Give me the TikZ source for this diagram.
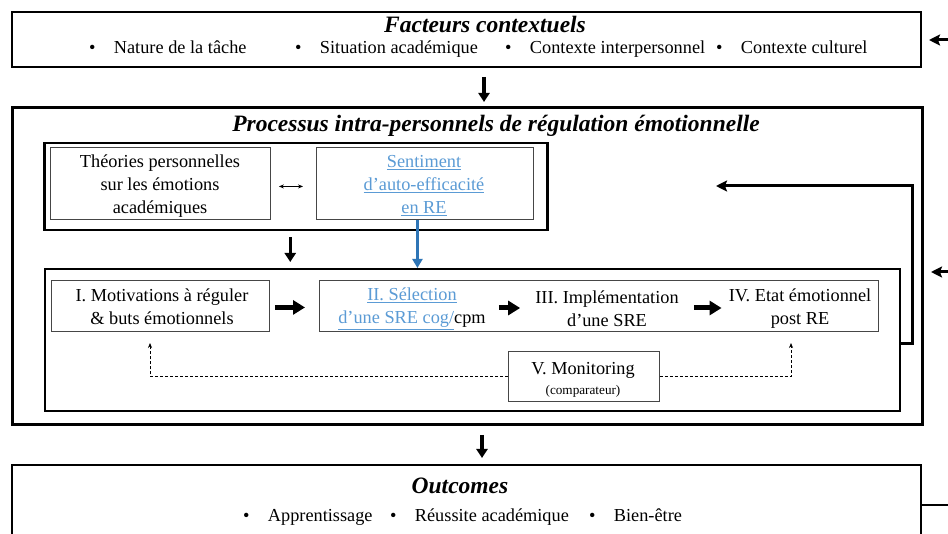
\documentclass[tikz,border=0pt]{standalone}
\usepackage{fontspec}
\setmainfont{Liberation Serif}
\usetikzlibrary{arrows.meta,calc}
\definecolor{linkblue}{RGB}{91,155,213}
\definecolor{arrowblue}{RGB}{46,117,182}
\definecolor{thinframe}{RGB}{70,70,70}
\newcommand{\bodyfont}{\fontsize{18.3}{23}\selectfont}
\newcommand{\titlefont}{\fontsize{23.5}{27}\selectfont\bfseries\itshape}
\newcommand{\smallfont}{\fontsize{13.2}{15}\selectfont}
\newcommand{\lnk}[1]{{\color{linkblue}\underline{#1}}}
\begin{document}
\begin{tikzpicture}[x=1pt,y=-1pt,
  frame/.style={draw, inner sep=0pt, anchor=north west},
  subbox/.style={frame, draw=thinframe, line width=0.9pt, align=center, font=\bodyfont},
  label/.style={font=\bodyfont, align=center, inner sep=0pt},
  item/.style={anchor=base west, inner sep=0pt, font=\bodyfont},
  heading/.style={font=\titlefont, inner sep=0pt},
  downarrow/.style={-{Triangle[length=9pt,width=11pt]}, line width=3.5pt},
  bigarrow/.style={-{Triangle[length=12pt,width=14pt]}, line width=5pt},
  dasharrow/.style={dash pattern=on 3pt off 2pt, line width=0.7pt, -{Stealth[length=5pt,width=4pt]}},
  loopline/.style={-{Stealth[length=11pt,width=11pt,inset=2pt]}, line width=3pt}]
\useasboundingbox (0,0) rectangle (948,534);
\clip (0,0) rectangle (948,534);
\fill[white] (0,0) rectangle (948,534);

% Contextual factors
\node[frame, line width=2pt, minimum width=909pt, minimum height=55pt] (ctx) at (11,11) {};
\node[heading] (ctxtitle) at (485,24) {Facteurs contextuels};
\node[item] (c1) at (89,54) {•\hspace{1em}Nature de la tâche};
\node[item] (c2) at (295,54) {•\hspace{1em}Situation académique};
\node[item] (c3) at (505,54) {•\hspace{1em}Contexte interpersonnel};
\node[item] (c4) at (716,54) {•\hspace{1em}Contexte culturel};

% Intra-personal processes
\node[frame, line width=3pt, minimum width=910pt, minimum height=317pt] (proc) at (11,106) {};
\node[heading] (proctitle) at (496,126) {Processus intra-personnels de régulation émotionnelle};

\node[frame, line width=2.5pt, minimum width=503pt, minimum height=87pt] (beliefs) at (43,142) {};
\node[frame, draw=thinframe, line width=0.9pt, minimum width=220pt, minimum height=72pt] (theo) at (50,147) {};
\node[label] (theotext) at (160,186) {Théories personnelles\\sur les émotions\\académiques};
\node[frame, draw=thinframe, line width=0.9pt, minimum width=217pt, minimum height=72pt] (sae) at (316,147) {};
\node[label] (saetext) at (424,186) {\lnk{Sentiment}\\\lnk{d’auto-efficacité}\\\lnk{en RE}};
\draw[{Stealth[length=5pt,width=4pt]}-{Stealth[length=5pt,width=4pt]}, line width=0.8pt, shorten <=8pt, shorten >=13pt]
  ([yshift=-3pt]theo.east) -- ([yshift=-3pt]sae.west);

\node[frame, line width=2pt, minimum width=855pt, minimum height=142pt] (cycle) at (44,268) {};
\node[frame, draw=thinframe, line width=0.9pt, minimum width=218pt, minimum height=51pt] (mot) at (51,280) {};
\node[label] (mottext) at (162,307) {I. Motivations à réguler\\\& buts émotionnels};
\node[frame, draw=thinframe, line width=0.9pt, minimum width=559pt, minimum height=51pt] (chain) at (319,280) {};
\node[label] (sel) at (412,309) {\lnk{II. Sélection}\\\lnk{d’une SRE cog/}cpm};
\node[label] (impl) at (607,309) {III. Implémentation\\d’une SRE};
\node[label] (post) at (800,309) {IV. Etat émotionnel\\post RE};
\node[frame, draw=thinframe, line width=0.9pt, minimum width=151pt, minimum height=50pt] (mon) at (508,351) {};
\node[label] (montext) at (583,380) {V. Monitoring\\[-3pt]{\smallfont(comparateur)}};

\draw[bigarrow, shorten <=5pt, shorten >=14pt] ([yshift=-1.5pt]mot.east) -- ([yshift=-1.5pt]mot.east -| chain.west);
\draw[bigarrow, shorten <=13pt, shorten >=15pt] ([yshift=1pt]sel.east) -- ([yshift=1pt]sel.east -| impl.west);
\draw[bigarrow, shorten <=15pt, shorten >=7pt] ([yshift=1pt]impl.east) -- ([yshift=1pt]impl.east -| post.west);

\coordinate (dl) at (150,343);
\coordinate (dr) at (791,343);
\draw[dasharrow] (mon.west) -| (dl);
\draw[dasharrow] (mon.east) -| (dr);

\draw[downarrow, shorten <=6pt, shorten >=6pt] ([xshift=-5.5pt]beliefs.south) -- ([xshift=-5.5pt]beliefs.south |- cycle.north);
\draw[-{Triangle[length=9pt,width=10pt]}, arrowblue, line width=3pt] ([xshift=-7.5pt]sae.south) -- ([xshift=-7.5pt]sae.south |- cycle.north);

\coordinate (fbend) at (716,186);
\draw[loopline] ([yshift=-4pt]cycle.east) -- ++(11,0) |- (fbend);

% Outcomes
\node[frame, line width=2pt, minimum width=909pt, minimum height=90pt] (out) at (11,464) {};
\node[heading] (outtitle) at (460,486) {Outcomes};
\node[item] (o1) at (243,521) {•\hspace{1em}Apprentissage};
\node[item] (o2) at (390,521) {•\hspace{1em}Réussite académique};
\node[item] (o3) at (589,521) {•\hspace{1em}Bien-être};

% Links between the three levels
\draw[downarrow, shorten <=9pt, shorten >=4pt] ([xshift=17.5pt]ctx.south) -- ([xshift=17.5pt]ctx.south |- proc.north);
\draw[downarrow, shorten <=9pt, shorten >=6pt] ([xshift=14.5pt]proc.south) -- ([xshift=14.5pt]proc.south |- out.north);

% Feedback entering from the right
\coordinate (edgeA) at (948,40);
\coordinate (edgeB) at (948,272);
\coordinate (edgeC) at (948,505);
\draw[loopline, shorten >=7pt] (edgeA) -- (edgeA -| ctx.east);
\draw[loopline, shorten >=7pt] (edgeB) -- (edgeB -| proc.east);
\draw[line width=2pt] (edgeC -| out.east) -- (edgeC);
\end{tikzpicture}
\end{document}
